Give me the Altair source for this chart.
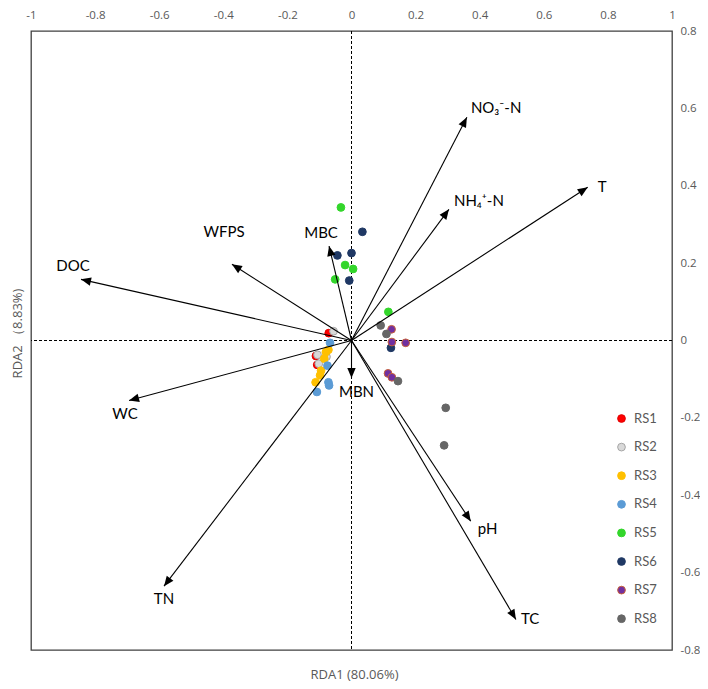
import math
import altair as alt
import pandas as pd

# ---------------- data ----------------
X_TICKS = [-1, -0.8, -0.6, -0.4, -0.2, 0, 0.2, 0.4, 0.6, 0.8, 1]
Y_TICKS = [-0.8, -0.6, -0.4, -0.2, 0, 0.2, 0.4, 0.6, 0.8]

VARS = ["NO₃⁻-N", "T", "NH₄⁺-N", "MBC", "WFPS", "DOC", "WC", "MBN", "TN", "pH", "TC"]
VAR_X = [0.360, 0.737, 0.304, -0.070, -0.373, -0.844, -0.694, 0.000, -0.585, 0.372, 0.513]
VAR_Y = [0.577, 0.396, 0.339, 0.244, 0.197, 0.158, -0.155, -0.097, -0.635, -0.467, -0.721]

GROUPS = ["RS1", "RS2", "RS3", "RS4", "RS5", "RS6", "RS7", "RS8"]
RS1_X = [-0.071, -0.111, -0.107]
RS1_Y = [0.019, -0.040, -0.063]
RS2_X = [-0.056, -0.106, -0.078, -0.102]
RS2_Y = [0.024, -0.037, -0.042, -0.060]
RS3_X = [-0.072, -0.080, -0.085, -0.095, -0.098, -0.112]
RS3_Y = [-0.024, -0.030, -0.047, -0.078, -0.090, -0.108]
RS4_X = [-0.067, -0.075, -0.072, -0.070, -0.108]
RS4_Y = [-0.006, -0.065, -0.108, -0.116, -0.133]
RS5_X = [-0.033, -0.020, 0.005, -0.051, 0.115]
RS5_Y = [0.344, 0.195, 0.185, 0.158, 0.074]
RS6_X = [0.034, -0.044, 0.000, -0.007, 0.123]
RS6_Y = [0.281, 0.220, 0.226, 0.155, -0.019]
RS7_X = [0.125, 0.126, 0.169, 0.114, 0.126]
RS7_Y = [0.029, -0.004, -0.006, -0.085, -0.095]
RS8_X = [0.091, 0.109, 0.145, 0.294, 0.289]
RS8_Y = [0.039, 0.017, -0.105, -0.174, -0.271]

# ---------------- styles ----------------
FILLS = ["#FF0000", "#D9D9D9", "#FFC000", "#5B9BD5", "#33D62B", "#1F3864", "#7030A0", "#666666"]
STROKES = ["#E00000", "#A6A6A6", "#FFC000", "#5B9BD5", "#33D62B", "#1F3864", "#C8603A", "#666666"]

# label offsets in pixels (dx, dy, align)
LABEL_STYLE = {
    "NO₃⁻-N": (4, -9, "left"),
    "T": (10, 0, "left"),
    "NH₄⁺-N": (5, -8, "left"),
    "MBC": (-8, -13, "center"),
    "WFPS": (-8, -32, "center"),
    "DOC": (-8, -13, "center"),
    "WC": (-4, 14, "center"),
    "MBN": (5, 14, "center"),
    "TN": (0, 13, "center"),
    "pH": (7, 8, "left"),
    "TC": (5, 0, "left"),
}

W, H = 641, 619
SX = W / 2.0
SY = H / 1.6

pts_x = RS1_X + RS2_X + RS3_X + RS4_X + RS5_X + RS6_X + RS7_X + RS8_X
pts_y = RS1_Y + RS2_Y + RS3_Y + RS4_Y + RS5_Y + RS6_Y + RS7_Y + RS8_Y
pts_g = sum([[g] * n for g, n in zip(GROUPS, [len(RS1_X), len(RS2_X), len(RS3_X), len(RS4_X),
                                               len(RS5_X), len(RS6_X), len(RS7_X), len(RS8_X)])], [])
points = pd.DataFrame({"x": pts_x, "y": pts_y, "group": pts_g})

arrows = pd.DataFrame({"name": VARS, "x": VAR_X, "y": VAR_Y})
arrows["x0"] = 0.0
arrows["y0"] = 0.0
arrows["ang"] = [math.degrees(math.atan2(x * SX, y * SY)) % 360 for x, y in zip(VAR_X, VAR_Y)]
arrows["lx"] = [x + LABEL_STYLE[n][0] / SX for n, x in zip(VARS, VAR_X)]
arrows["ly"] = [y - LABEL_STYLE[n][1] / SY for n, y in zip(VARS, VAR_Y)]
arrows["align"] = [LABEL_STYLE[n][2] for n in VARS]

xs = alt.Scale(domain=[-1, 1], nice=False, zero=False)
ys = alt.Scale(domain=[-0.8, 0.8], nice=False, zero=False)

LABEL_FONT = "Open Sans"
GRAY = "#595959"

top_axis = alt.Axis(orient="top", values=X_TICKS, labelExpr="toString(datum.value)",
                    ticks=False, domain=False, grid=False, title=None,
                    labelFont=LABEL_FONT, labelFontSize=11.5, labelColor=GRAY,
                    labelPadding=11, labelFlush=False, labelOverlap=False)
right_axis = alt.Axis(orient="right", values=Y_TICKS, labelExpr="toString(datum.value)",
                      ticks=False, domain=False, grid=False, title=None,
                      labelFont=LABEL_FONT, labelFontSize=11.5, labelColor=GRAY,
                      labelPadding=8, labelFlush=False, labelOverlap=False)
bottom_axis = alt.Axis(orient="bottom", title="RDA1 (80.06%)", labels=False, ticks=False,
                       domain=False, grid=False, titleFont=LABEL_FONT, titleFontSize=13,
                       titleColor=GRAY, titleFontWeight="normal", titleBaseline="middle",
                       titleX=323, titleY=24)
left_axis = alt.Axis(orient="left", title="RDA2 （8.83%)", labels=False, ticks=False,
                     domain=False, grid=False, titleFont=LABEL_FONT, titleFontSize=13,
                     titleColor=GRAY, titleFontWeight="normal", titleBaseline="middle",
                     titleAlign="center", titleAngle=270, titleX=-14, titleY=302)

zero = pd.DataFrame({"v": [0.0]})
rule_v = alt.Chart(zero).mark_rule(color="black", strokeWidth=1, strokeDash=[3, 2]).encode(
    x=alt.X("v:Q", scale=xs, axis=top_axis))
rule_h = alt.Chart(zero).mark_rule(color="black", strokeWidth=1, strokeDash=[3, 2]).encode(
    y=alt.Y("v:Q", scale=ys, axis=right_axis))

legend = alt.Legend(title=None, orient="none", legendX=584, legendY=381, symbolSize=60,
                    symbolType="circle", symbolStrokeWidth=1, labelFont="Lato",
                    labelFontSize=13, labelColor=GRAY, rowPadding=14.6, padding=0,
                    labelOffset=6)

pts = alt.Chart(points).mark_circle(size=60, opacity=1, strokeWidth=1).encode(
    x=alt.X("x:Q", scale=xs, axis=None),
    y=alt.Y("y:Q", scale=ys, axis=None),
    fill=alt.Fill("group:N", scale=alt.Scale(domain=GROUPS, range=FILLS), legend=legend),
    stroke=alt.Stroke("group:N", scale=alt.Scale(domain=GROUPS, range=STROKES), legend=legend),
)

shafts = alt.Chart(arrows).mark_rule(color="black", strokeWidth=1.1).encode(
    x=alt.X("x0:Q", scale=xs, axis=bottom_axis),
    y=alt.Y("y0:Q", scale=ys, axis=left_axis),
    x2="x:Q",
    y2="y:Q",
)

heads = alt.Chart(arrows).mark_point(shape="M0,0 L-0.42,1 L0.42,1 Z", filled=True,
                                     color="black", size=400, opacity=1).encode(
    x=alt.X("x:Q", scale=xs, axis=None),
    y=alt.Y("y:Q", scale=ys, axis=None),
    angle=alt.Angle("ang:Q", scale=None),
)

lab_left = alt.Chart(arrows[arrows["align"] == "left"]).mark_text(
    align="left", baseline="middle", font="Lato", fontSize=15, color="black").encode(
    x=alt.X("lx:Q", scale=xs, axis=None),
    y=alt.Y("ly:Q", scale=ys, axis=None),
    text="name:N",
)
lab_center = alt.Chart(arrows[arrows["align"] == "center"]).mark_text(
    align="center", baseline="middle", font="Lato", fontSize=15, color="black").encode(
    x=alt.X("lx:Q", scale=xs, axis=None),
    y=alt.Y("ly:Q", scale=ys, axis=None),
    text="name:N",
)

chart = alt.layer(rule_v, rule_h, pts, shafts, heads, lab_left, lab_center).resolve_axis(
    x="independent", y="independent"
).properties(
    width=W, height=H,
    autosize=alt.AutoSizeParams(type="none"),
    padding={"left": 23, "top": 23, "right": 28, "bottom": 31},
    background="white",
).configure_view(stroke="#404040", strokeWidth=1.3)

chart.save("out.html", embed_options={"renderer": "svg", "actions": False})
